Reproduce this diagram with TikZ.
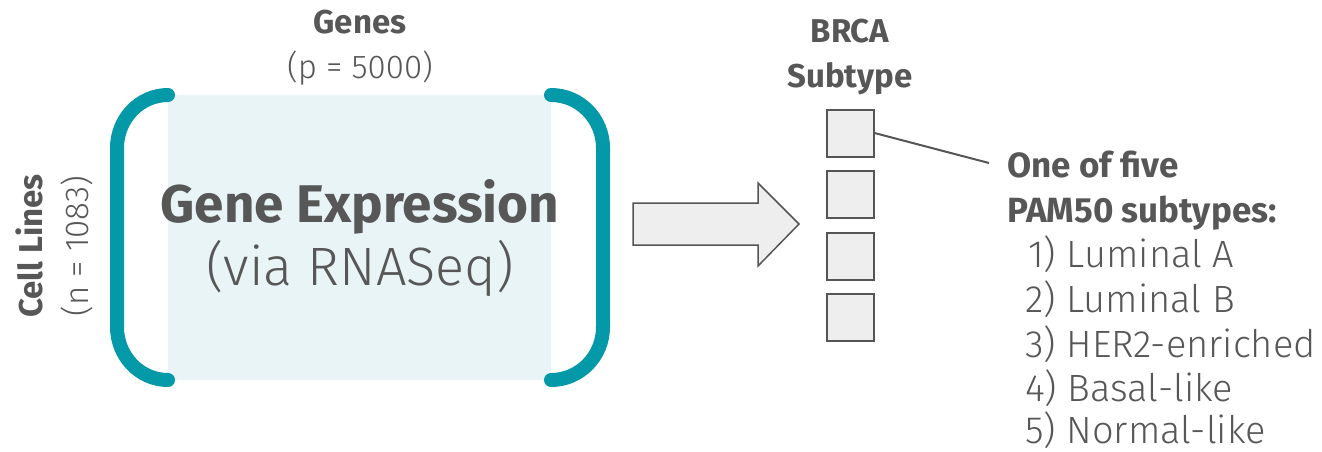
\documentclass[tikz,border=0pt]{standalone}
\usepackage{fontspec}
\setmainfont{Fira Sans}
\newfontfamily\lightfont{Fira Sans Light}
\newfontfamily\boldfont{Fira Sans Bold}
\definecolor{ink}{HTML}{575757}
\definecolor{teal}{HTML}{0499A8}
\definecolor{paleblue}{HTML}{E8F4F6}
\definecolor{cellgrey}{HTML}{EEEEEE}
\definecolor{edgegrey}{HTML}{555555}
\begin{document}
\begin{tikzpicture}[x=1pt,y=-1pt,
  label/.style={inner sep=0pt, anchor=base, text=ink},
  heavy/.style={label, font=\boldfont\fontsize{33}{33}\selectfont},
  thin/.style={label, font=\lightfont\fontsize{33}{33}\selectfont},
  bracket/.style={draw=teal, line width=14pt, line cap=round},
  cell/.style={draw=edgegrey, line width=2pt, fill=cellgrey, minimum size=47pt, inner sep=0pt},
  item/.style={label, anchor=base west, font=\lightfont\fontsize{38}{38}\selectfont}]
\useasboundingbox (0,0) rectangle (1322,451);

% expression matrix
\node[fill=paleblue, inner sep=0pt, minimum width=383pt, minimum height=285pt] (matrix) at (359.5,237.5) {};
\draw[bracket] (168,95) to[out=180,in=90] (117,148) -- (117,327) to[out=-90,in=180] (168,380);
\draw[bracket] (551,95) to[out=0,in=90] (603,148) -- (603,327) to[out=-90,in=0] (551,380);

\node[label, font=\boldfont\fontsize{53}{53}\selectfont] (title) at (360,222) {Gene Expression};
\node[label, font=\lightfont\fontsize{54}{54}\selectfont] (via) at (360,285) {(via RNASeq)};

\node[heavy] (genes) at (360,33) {Genes};
\node[thin] (p) at (360,78) {(p = 5000)};
\node[heavy, rotate=90] (cells) at (42,246) {Cell Lines};
\node[thin, rotate=90] (n) at (88,246) {(n = 1083)};

% block arrow
\draw[draw=edgegrey, line width=1.5pt, fill=cellgrey, line join=miter]
  (633,203) -- (758,203) -- (758,183) -- (799,224) -- (758,266) -- (758,245) -- (633,245) -- cycle;

% subtype column
\node[heavy] (brca) at (850,42) {BRCA};
\node[heavy] (subtype) at (850,87) {Subtype};
\node[cell] (b1) at (850,133) {};
\node[cell] (b2) at (850,194.5) {};
\node[cell] (b3) at (850,256) {};
\node[cell] (b4) at (850,317) {};

\coordinate (callout) at (989,163);
\draw[edgegrey, line width=2pt] (b1.east) -- (callout);

\node[heavy, anchor=base west, font=\boldfont\fontsize{35}{35}\selectfont] (one) at (1007,177) {One of five};
\node[heavy, anchor=base west, font=\boldfont\fontsize{35}{35}\selectfont] (pam) at (1007,222) {PAM50 subtypes:};
\node[item] (s1) at (1025,267) {\kern3pt1) Luminal A};
\node[item] (s2) at (1025,312) {2) Luminal B};
\node[item] (s3) at (1025,357) {3) HER2-enriched};
\node[item] (s4) at (1025,401) {4) Basal-like};
\node[item] (s5) at (1025,443) {5) Normal-like};
\end{tikzpicture}
\end{document}
